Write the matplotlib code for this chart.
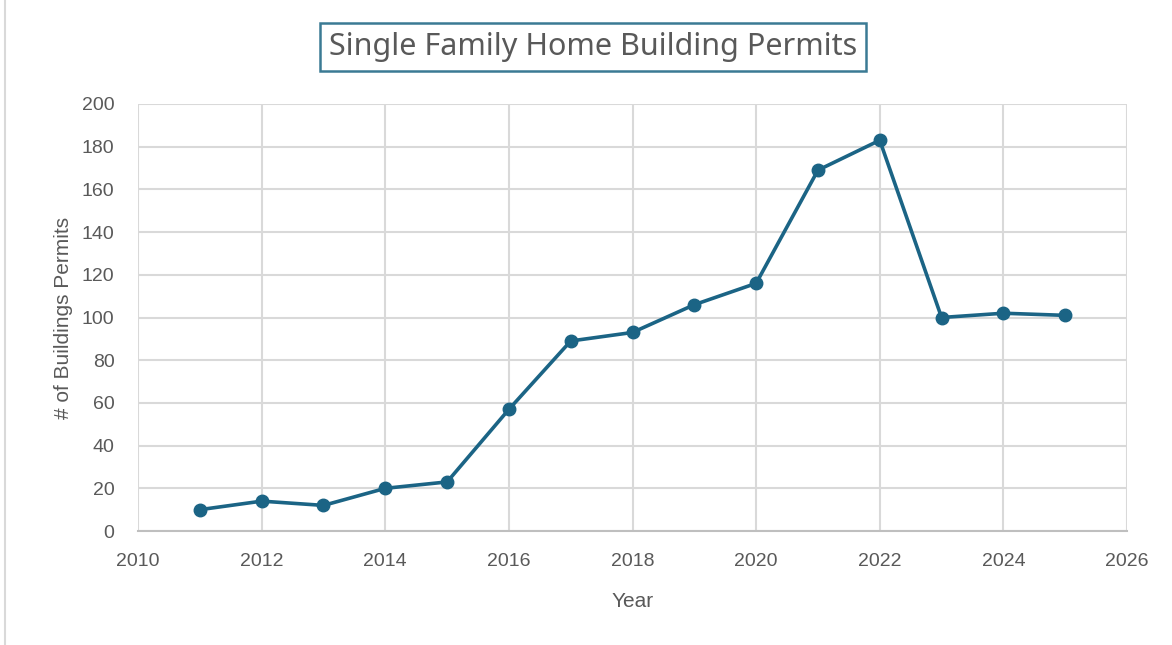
import matplotlib.pyplot as plt
from matplotlib.lines import Line2D

years = [2011, 2012, 2013, 2014, 2015, 2016, 2017, 2018, 2019, 2020, 2021, 2022, 2023, 2024, 2025]
permits = [10, 14, 12, 20, 23, 57, 89, 93, 106, 116, 169, 183, 100, 102, 101]

line_color = '#1B6485'
text_color = '#595959'
grid_color = '#D9D9D9'

plt.rcParams['font.family'] = ['Liberation Sans', 'DejaVu Sans']

fig = plt.figure(figsize=(11.72, 6.45), dpi=100)
ax = fig.add_axes([0.1178, 0.1767, 0.8438, 0.6621])

ax.plot(years, permits, color=line_color, linewidth=2.6, marker='o', markersize=9,
        markerfacecolor=line_color, markeredgecolor=line_color, zorder=3)

ax.set_xlim(2010, 2026)
ax.set_ylim(0, 200)
ax.set_xticks(range(2010, 2027, 2))
ax.set_yticks(range(0, 201, 20))
ax.grid(True, color=grid_color, linewidth=1.5)
ax.set_axisbelow(True)
for side in ['top', 'right', 'left']:
    ax.spines[side].set_visible(False)
ax.spines['bottom'].set_color('#BFBFBF')
ax.spines['bottom'].set_linewidth(1.5)
ax.tick_params(length=0, labelsize=14, labelcolor=text_color)
ax.tick_params(axis='y', pad=17)
ax.tick_params(axis='x', pad=16)

ax.set_xlabel('Year', fontsize=15, color=text_color, labelpad=16)
ax.set_ylabel('# of Buildings Permits', fontsize=15, color=text_color, labelpad=6)

fig.text(0.506, 0.927, 'Single Family Home Building Permits', ha='center', va='center',
         fontsize=22, color=text_color, family=['Noto Sans', 'DejaVu Sans'],
         bbox=dict(boxstyle='square,pad=0.3', facecolor='white', edgecolor='#3B7A94', linewidth=1.8))

# chart border on the left edge
fig.add_artist(Line2D([0.0045, 0.0045], [0.0, 1.0], color='#D9D9D9', linewidth=1.5,
                      transform=fig.transFigure))

fig.savefig('out.png', dpi=100)
